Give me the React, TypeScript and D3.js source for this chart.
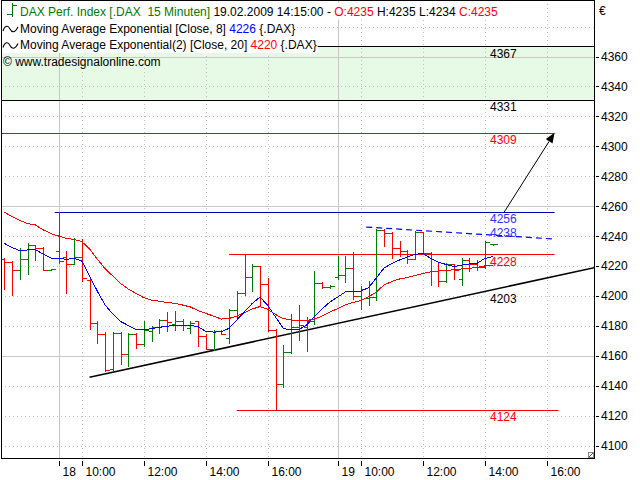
import React, { useEffect, useRef } from "react";
import * as d3 from "d3";

// ---- OHLC bars (15 min, bar index 0..63) ----
const barOpen = [4224.5, 4222.8, 4217, 4224.5, 4233.9, 4232.1, 4217.5, 4230.3, 4226.1, 4221, 4226.1, 4210.9, 4182, 4174.2, 4150.8, 4175.3, 4161.3, 4174.7, 4168, 4176.5, 4179, 4183.7, 4181.5, 4183.1, 4178.5, 4183.1, 4173.1, 4164.2, 4176.4, 4172, 4190.5, 4202, 4212.3, 4219.8, 4208.1, 4177.5, 4141.4, 4162.8, 4179, 4179.5, 4183.5, 4208.7, 4205.8, 4212.5, 4214, 4218.8, 4199.6, 4198.5, 4199.5, 4244, 4241.7, 4232.1, 4229.9, 4224.8, 4242.6, 4228.8, 4216.5, 4210, 4221.4, 4211, 4224.3, 4221, 4219.4, 4235];
const barHigh = [4225.5, 4223, 4232.1, 4235.5, 4234.2, 4232.5, 4218.3, 4256, 4229.7, 4238.8, 4238.3, 4211, 4183.1, 4176, 4176, 4176, 4175.3, 4175.3, 4183.1, 4180.2, 4184.7, 4189.1, 4190.2, 4184.5, 4183.5, 4183.5, 4174.2, 4177.5, 4177.5, 4190.9, 4203, 4228, 4221, 4220, 4212, 4178, 4167.5, 4188, 4194.2, 4186, 4216.5, 4209.2, 4207, 4226.5, 4226.5, 4229, 4206.3, 4209.8, 4245, 4244.5, 4242.5, 4236.5, 4230.5, 4243.2, 4243, 4229, 4222.1, 4222.1, 4221.5, 4225.5, 4225.5, 4224, 4236.5, 4235];
const barLow = [4204.7, 4200.9, 4211.4, 4214.3, 4224.3, 4217.3, 4217.2, 4222.1, 4201.6, 4221, 4209.8, 4178, 4168.6, 4149.7, 4150.3, 4154.3, 4153, 4165.3, 4166.4, 4169.7, 4175.3, 4176.4, 4177.5, 4177.5, 4175.3, 4166.4, 4164.2, 4164, 4174.2, 4168.6, 4185.5, 4200.3, 4203.1, 4194.2, 4176.5, 4124, 4139, 4162, 4170.8, 4163, 4181, 4205.4, 4205, 4211.5, 4209.5, 4197.6, 4190.9, 4194.2, 4197, 4233.2, 4225.5, 4226.5, 4222.1, 4224.5, 4228.3, 4207.6, 4206.8, 4209.5, 4211, 4207.6, 4216.5, 4217.5, 4218.7, 4234];
const barClose = [4222.8, 4217, 4224.5, 4233.9, 4232.1, 4217.6, 4218, 4223.6, 4221, 4226.1, 4212.1, 4182, 4174.2, 4150.3, 4175.3, 4161.3, 4174.7, 4168, 4177.5, 4179, 4183.8, 4182.4, 4183.1, 4180.5, 4182, 4173.1, 4164.5, 4176.4, 4174.5, 4190.5, 4202, 4212.3, 4219.8, 4208.1, 4177.5, 4141.4, 4162.8, 4179, 4180.3, 4183.5, 4208.7, 4205.8, 4206.3, 4214, 4218.8, 4199.6, 4204.3, 4199.5, 4244, 4241.7, 4232.1, 4229.9, 4224.8, 4242.6, 4228.8, 4216.5, 4209.8, 4221.4, 4217.6, 4224.3, 4221, 4219.4, 4235.9, 4235];

// ---- Moving averages ----
const ema8 = [4235.1, 4232.3, 4230.3, 4230.7, 4231, 4228, 4225.3, 4225.1, 4224.4, 4225.1, 4223.3, 4213.3, 4203.2, 4193.9, 4187.9, 4182.9, 4180.2, 4177.6, 4177.2, 4178.2, 4179, 4179.7, 4180.3, 4180.3, 4180.3, 4179.4, 4176.2, 4175.8, 4176, 4178.3, 4183.9, 4189.4, 4195, 4199.2, 4193.6, 4185.9, 4178.2, 4177.2, 4177.5, 4180.5, 4186.2, 4191.2, 4195.9, 4199.2, 4202.6, 4202.6, 4203.2, 4205.5, 4211.9, 4218.6, 4221.6, 4224, 4226, 4227.8, 4228.4, 4225.1, 4222.6, 4221, 4219.6, 4220.6, 4221.3, 4221.8, 4225, 4226.3];
const ema20 = [4255.9, 4253, 4250.4, 4248.4, 4247.4, 4244.2, 4241.7, 4240, 4238.5, 4237.7, 4236.3, 4231.3, 4224.6, 4218.2, 4213.3, 4208.3, 4204.6, 4201.6, 4198.8, 4197.2, 4196.4, 4195.6, 4195, 4193.9, 4192.6, 4190.2, 4188.3, 4186.5, 4184.5, 4184.9, 4186.5, 4188.9, 4191.2, 4192.9, 4191, 4187.5, 4184.9, 4183.9, 4183.4, 4183.5, 4184.5, 4186.5, 4189.2, 4191.4, 4193.9, 4195.6, 4196.9, 4199.4, 4202.6, 4207.3, 4209.6, 4211.3, 4212.3, 4213.6, 4214.9, 4216.1, 4216.6, 4217, 4217.5, 4218, 4218.4, 4219, 4220, 4220.3];

// ---- Axes ----
const timeTickIndex = [7, 10, 18, 26, 34, 43, 46, 54, 62, 70];
const timeTickLabels = ["18", "10:00", "12:00", "14:00", "16:00", "19", "10:00", "12:00", "14:00", "16:00"];
const dayStartIndex = [7, 43];
const priceTicks = [4100, 4120, 4140, 4160, 4180, 4200, 4220, 4240, 4260, 4280, 4300, 4320, 4340, 4360];
const gridValues = [4100, 4120, 4140, 4160, 4180, 4200, 4220, 4240, 4260, 4280, 4300, 4320, 4340, 4360, 4380];
const solidGridValues = [4160, 4260, 4360];

// ---- Drawing tools / annotations ----
const zoneRange = [4331, 4367];
const levelValues = [4367, 4331, 4309, 4256, 4228, 4124];
const levelStartIdx = [null, null, null, 6.5, 29, 30];
const levelEndIdx = [null, null, 71, 71, 71, 71.5];
const dashStart = [46.7, 4246];
const dashEnd = [71, 4238];
const trendStart = [11, 4145.6];
const trendEnd = [76.5, 4219.3];
const arrowStart = [64.5, 4256];
const arrowEnd = [71, 4309];
const labelValues = [4367, 4331, 4309, 4256, 4238, 4228, 4203, 4124];

// styles (kept apart from the data)
const levelColors = ["#000000", "#000000", "#ff0000", "#0000b0", "#ff0000", "#ff0000"];
const labelColors = ["#000000", "#000000", "#ff0000", "#3333ff", "#3333ff", "#ff0000", "#000000", "#ff0000"];
const labelDy = [11.5, 11.5, 11.5, 10.5, -2, 12, 11.5, 11.5];

const FONT = "'Liberation Sans', Arial, sans-serif";
const UP = "#008000";
const DOWN = "#ff0000";

export default function App() {
  const ref = useRef<SVGSVGElement>(null);

  useEffect(() => {
    const svgEl = ref.current;
    if (!svgEl) return;
    const svg = d3.select(svgEl);
    svg.selectAll("*").remove();

    const plot = { left: 1, top: 0, right: 594, bottom: 458 };
    const x = d3.scaleLinear().domain([0, 63]).range([4.3, 4.3 + 63 * 7.75]);
    const y = d3.scaleLinear().domain([4100, 4360]).range([445.5, 56.5]);
    const cx = (i: number) => Math.round(x(i)) + 0.5;
    const cy = (v: number) => Math.round(y(v)) + 0.5;

    svg.append("rect").attr("width", 640).attr("height", 480).attr("fill", "#ffffff");

    const defs = svg.append("defs");
    defs.append("clipPath").attr("id", "plotclip")
      .append("rect").attr("x", plot.left).attr("y", plot.top)
      .attr("width", plot.right - plot.left).attr("height", plot.bottom - plot.top);

    const g = svg.append("g").attr("clip-path", "url(#plotclip)");

    // zone
    g.append("rect")
      .attr("x", plot.left).attr("width", plot.right - plot.left)
      .attr("y", y(zoneRange[1])).attr("height", y(zoneRange[0]) - y(zoneRange[1]))
      .attr("fill", "#e6fae6");

    // grid
    gridValues.forEach((v) => {
      const solid = solidGridValues.includes(v);
      g.append("line")
        .attr("x1", plot.left).attr("x2", plot.right)
        .attr("y1", cy(v)).attr("y2", cy(v))
        .attr("stroke", solid ? "#c8c8c8" : "#c0c0c0")
        .attr("stroke-dasharray", solid ? null : "1,3");
    });
    timeTickIndex.forEach((i) => {
      const solid = dayStartIndex.includes(i);
      g.append("line")
        .attr("x1", cx(i)).attr("x2", cx(i))
        .attr("y1", plot.top).attr("y2", plot.bottom)
        .attr("stroke", solid ? "#c8c8c8" : "#c0c0c0")
        .attr("stroke-dasharray", solid ? null : "1,3");
    });

    // horizontal levels
    levelValues.forEach((v, k) => {
      const s = levelStartIdx[k];
      const e = levelEndIdx[k];
      g.append("line")
        .attr("x1", s == null ? plot.left : x(s))
        .attr("x2", e == null ? plot.right : x(e))
        .attr("y1", cy(v)).attr("y2", cy(v))
        .attr("stroke", levelColors[k]).attr("stroke-width", 1);
    });

    // trend line
    g.append("line")
      .attr("x1", x(trendStart[0])).attr("y1", y(trendStart[1]))
      .attr("x2", x(trendEnd[0])).attr("y2", y(trendEnd[1]))
      .attr("stroke", "#000").attr("stroke-width", 1.5);

    // dashed line
    g.append("line")
      .attr("x1", x(dashStart[0])).attr("y1", y(dashStart[1]))
      .attr("x2", x(dashEnd[0])).attr("y2", y(dashEnd[1]))
      .attr("stroke", "#0000ff").attr("stroke-width", 1.2)
      .attr("stroke-dasharray", "6,4");

    // bars
    const bars = g.append("g").attr("shape-rendering", "crispEdges");
    barOpen.forEach((o, i) => {
      const c = barClose[i];
      const col = c >= o ? UP : DOWN;
      const px = cx(i);
      bars.append("line").attr("x1", px).attr("x2", px)
        .attr("y1", Math.round(y(barHigh[i]))).attr("y2", Math.round(y(barLow[i])) + 1)
        .attr("stroke", col);
      bars.append("line").attr("x1", px - 4).attr("x2", px)
        .attr("y1", cy(o)).attr("y2", cy(o)).attr("stroke", col);
      bars.append("line").attr("x1", px).attr("x2", px + 4)
        .attr("y1", cy(c)).attr("y2", cy(c)).attr("stroke", col);
    });

    // moving averages
    const line = d3.line<number>().x((_, i) => x(i)).y((v) => y(v));
    g.append("path").attr("d", line(ema20) || "").attr("fill", "none")
      .attr("stroke", "#ff0000").attr("stroke-width", 1).attr("shape-rendering", "crispEdges");
    g.append("path").attr("d", line(ema8) || "").attr("fill", "none")
      .attr("stroke", "#0000ff").attr("stroke-width", 1).attr("shape-rendering", "crispEdges");

    // arrow
    const ax1 = x(arrowStart[0]), ay1 = y(arrowStart[1]);
    const ax2 = x(arrowEnd[0]), ay2 = y(arrowEnd[1]);
    const ang = Math.atan2(ay2 - ay1, ax2 - ax1);
    const hl = 10, hw = 4;
    const bx = ax2 - hl * Math.cos(ang), by = ay2 - hl * Math.sin(ang);
    g.append("line").attr("x1", ax1).attr("y1", ay1).attr("x2", bx).attr("y2", by)
      .attr("stroke", "#000").attr("stroke-width", 1);
    g.append("path")
      .attr("d", `M${ax2},${ay2} L${bx + hw * Math.sin(ang)},${by - hw * Math.cos(ang)} L${bx - hw * Math.sin(ang)},${by + hw * Math.cos(ang)} Z`)
      .attr("fill", "#000");

    // level labels
    labelValues.forEach((v, k) => {
      g.append("text")
        .attr("x", 490).attr("y", y(v) + labelDy[k])
        .attr("font-family", FONT).attr("font-size", 12)
        .attr("fill", labelColors[k]).text(String(v));
    });

    // frame
    svg.append("rect")
      .attr("x", plot.left + 0.5).attr("y", plot.top + 0.5)
      .attr("width", plot.right - plot.left).attr("height", plot.bottom - plot.top)
      .attr("fill", "none").attr("stroke", "#000").attr("shape-rendering", "crispEdges");
    // resize grip
    svg.append("rect").attr("x", 588.5).attr("y", 452.5).attr("width", 5).attr("height", 5)
      .attr("fill", "#fff").attr("stroke", "#888");
    svg.append("line").attr("x1", 589).attr("y1", 457).attr("x2", 593).attr("y2", 453).attr("stroke", "#555");

    // price axis
    const ya = svg.append("g");
    priceTicks.forEach((v) => {
      ya.append("line").attr("x1", 596).attr("x2", 599)
        .attr("y1", cy(v)).attr("y2", cy(v)).attr("stroke", "#000");
      ya.append("text").attr("x", 601).attr("y", y(v) + 4.5)
        .attr("font-family", FONT).attr("font-size", 12).attr("fill", "#000").text(String(v));
    });
    ya.append("text").attr("x", 599).attr("y", 15)
      .attr("font-family", FONT).attr("font-size", 12).text("€");

    // time axis
    const xa = svg.append("g");
    timeTickIndex.forEach((i, k) => {
      xa.append("line").attr("x1", cx(i)).attr("x2", cx(i))
        .attr("y1", 461).attr("y2", 466).attr("stroke", "#000");
      xa.append("text").attr("x", cx(i) + 3).attr("y", 476)
        .attr("font-family", FONT).attr("font-size", 12).text(timeTickLabels[k]);
    });

    // legend
    const leg = svg.append("g").attr("font-family", FONT).attr("font-size", 12)
      .style("white-space", "pre");
    const rows: { y: number; parts: [string, string][]; bg: boolean; tx: number }[] = [
      { y: 15.5, tx: 20, bg: true, parts: [["DAX Perf. Index [.DAX  15 Minuten] ", "#007a00"], ["19.02.2009 14:15:00 - ", "#000"], ["O:4235", "#ff0000"], [" H:4235 L:4234 ", "#000"], ["C:4235", "#ff0000"]] },
      { y: 32.5, tx: 20, bg: true, parts: [["Moving Average Exponential [Close, 8] ", "#000"], ["4226", "#0000ff"], [" {.DAX}", "#000"]] },
      { y: 49, tx: 20, bg: true, parts: [["Moving Average Exponential(2) [Close, 20] ", "#000"], ["4220", "#ff0000"], [" {.DAX}", "#000"]] },
      { y: 66, tx: 3, bg: false, parts: [["© www.tradesignalonline.com", "#000"]] },
    ];
    rows.forEach((r) => {
      const rg = leg.append("g");
      const bg = rg.append("rect");
      const t = rg.append("text").attr("x", r.tx).attr("y", r.y).attr("xml:space", "preserve");
      r.parts.forEach(([s, c]) => t.append("tspan").attr("fill", c).text(s));
      if (r.bg) {
        const w = (t.node() as SVGTextElement).getComputedTextLength();
        bg.attr("x", 2).attr("y", r.y - 13).attr("width", r.tx + w - 1).attr("height", 17).attr("fill", "#fff");
      } else {
        bg.remove();
      }
    });
    // icons
    const ic = leg.append("g").attr("fill", "none");
    ic.append("path").attr("d", "M12.5,3 V17 M7,14.5 H12.5 M12.5,5.5 H17")
      .attr("stroke", "#007a00").attr("shape-rendering", "crispEdges");
    [29, 45.5].forEach((yy) => {
      ic.append("path")
        .attr("d", `M3,${yy + 2} C5,${yy - 4} 8,${yy - 4} 10,${yy} S15,${yy + 4} 18,${yy - 2}`)
        .attr("stroke", "#000").attr("stroke-width", 1.1);
    });
  }, []);

  return (
    <svg
      ref={ref}
      width={640}
      height={480}
      style={{ position: "absolute", left: 0, top: 0, display: "block" }}
    />
  );
}
